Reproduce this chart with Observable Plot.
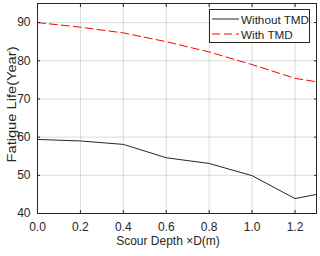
<!DOCTYPE html>
<html><head><meta charset="utf-8">
<script src="https://cdn.jsdelivr.net/npm/d3@7"></script>
<script src="https://cdn.jsdelivr.net/npm/@observablehq/plot@0.6"></script>
<style>
body{margin:0;background:#fff;font-family:"Liberation Sans",Arial,sans-serif;}
#wrap{position:relative;width:320px;height:256px;}
#legend{position:absolute;left:209px;top:9px;width:99px;height:32px;border:1px solid #262626;background:#fff;font-size:11.7px;color:#262626;}
.row{position:absolute;left:2px;height:14px;display:flex;align-items:center;}
.row span{margin-left:2px;}
</style></head><body><div id="wrap"></div>
<script>
const depth = [0, 0.2, 0.4, 0.6, 0.8, 1.0, 1.2, 1.3];
const withoutTMD = [59.4, 59.0, 58.1, 54.6, 53.1, 49.9, 43.9, 45.0];
const withTMD = [90.0, 88.8, 87.3, 85.0, 82.3, 79.0, 75.4, 74.5];
const seriesNames = ["Without TMD", "With TMD"];
const xTicks = [0, 0.2, 0.4, 0.6, 0.8, 1, 1.2];
const yTicks = [40, 50, 60, 70, 80, 90];

const dataWithout = depth.map((d, i) => ({x: d, y: withoutTMD[i]}));
const dataWith = depth.map((d, i) => ({x: d, y: withTMD[i]}));
const ink = "#262626";
const fs = 12;

const chart = Plot.plot({
  width: 320, height: 256,
  marginLeft: 37, marginRight: 4, marginTop: 3, marginBottom: 43,
  x: {domain: [0, 1.3]},
  y: {domain: [40, 95]},
  style: {fontFamily: "'Liberation Sans', Arial, sans-serif", fontSize: "12px", color: ink, background: "#fff"},
  marks: [
    Plot.gridX(xTicks, {stroke: "#000", strokeOpacity: 0.14}),
    Plot.gridY(yTicks, {stroke: "#000", strokeOpacity: 0.14}),
    Plot.line(dataWith, {x: "x", y: "y", stroke: "#ff0000", strokeWidth: 1, strokeDasharray: "8,4"}),
    Plot.line(dataWithout, {x: "x", y: "y", stroke: ink, strokeWidth: 1}),
    Plot.axisX(xTicks, {anchor: "bottom", tickSize: -3, tickPadding: 12, stroke: ink, fill: ink, fontSize: fs, label: "Scour Depth ×D(m)", labelAnchor: "center", labelArrow: "none", labelOffset: 31}),
    Plot.axisX(xTicks, {anchor: "top", tickSize: -3, tickFormat: () => "", label: null, stroke: ink}),
    Plot.axisY(yTicks, {anchor: "left", tickSize: -3, tickPadding: 10, stroke: ink, fill: ink, fontSize: fs, label: "Fatigue Life(Year)", labelAnchor: "center", labelArrow: "none", labelOffset: 30}),
    Plot.axisY(yTicks, {anchor: "right", tickSize: -3, tickFormat: () => "", label: null, stroke: ink}),
    Plot.frame({stroke: ink})
  ]
});
const wrap = document.getElementById("wrap");
wrap.appendChild(chart);

const texts = d3.select(chart).selectAll("text");
// the reference's y label is drawn stretched along its length and sits a little above centre
texts.filter(function () { return this.textContent === "Fatigue Life(Year)"; })
  .attr("font-size", 12).attr("textLength", 116).attr("lengthAdjust", "spacingAndGlyphs").attr("dx", 4);
// the reference's x label sits a little left of centre
texts.filter(function () { return this.textContent === "Scour Depth ×D(m)"; })
  .attr("dx", -9);

const legend = document.createElement("div");
legend.id = "legend";
const styles = [{stroke: ink, dash: ""}, {stroke: "#ff0000", dash: "8,4"}];
seriesNames.forEach((name, i) => {
  const row = document.createElement("div");
  row.className = "row";
  row.style.top = (2 + i * 15) + "px";
  row.innerHTML = `<svg width="27" height="4"><line x1="0" y1="2" x2="27" y2="2" stroke="${styles[i].stroke}" stroke-width="1" stroke-dasharray="${styles[i].dash}"/></svg><span>${name}</span>`;
  legend.appendChild(row);
});
wrap.appendChild(legend);
</script></body></html>
